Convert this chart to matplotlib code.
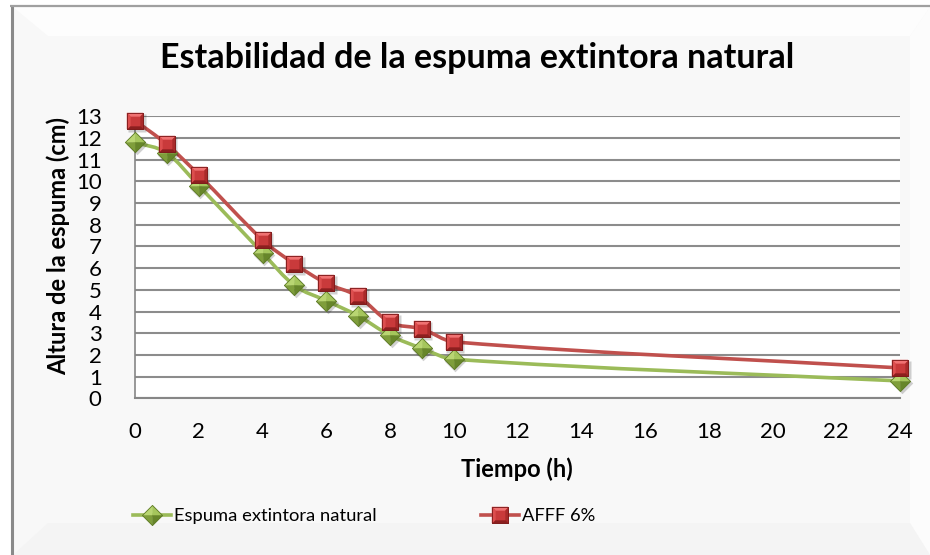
import numpy as np
import matplotlib
matplotlib.use("Agg")
import matplotlib.pyplot as plt
import matplotlib.transforms as mtransforms
from matplotlib.path import Path
from matplotlib.patches import PathPatch, Polygon
from matplotlib.lines import Line2D
from matplotlib.legend_handler import HandlerTuple

# Measurements
hours = [0, 1, 2, 4, 5, 6, 7, 8, 9, 10, 24]
espuma_natural = [11.8, 11.3, 9.8, 6.7, 5.2, 4.5, 3.8, 2.9, 2.3, 1.8, 0.8]
afff_6 = [12.8, 11.7, 10.3, 7.3, 6.2, 5.3, 4.7, 3.5, 3.2, 2.6, 1.4]
series_names = ["Espuma extintora natural", "AFFF 6%"]
x_ticks = list(range(0, 25, 2))
y_ticks = list(range(0, 14))

title = "Estabilidad de la espuma extintora natural"
x_label = "Tiempo (h)"
y_label = "Altura de la espuma (cm)"

GREEN = "#9bbb59"
RED = "#c0504d"

plt.rcParams['font.family'] = ['Lato', 'DejaVu Sans']

W, H = 930, 555
fig = plt.figure(figsize=(W / 100, H / 100), dpi=100)
fig.patch.set_facecolor("white")

# ---- bevelled chart frame ----
bg = fig.add_axes([0, 0, 1, 1], zorder=-10)
bg.set_xlim(0, W)
bg.set_ylim(H, 0)
bg.axis("off")
L, T = 13, 7
IL, IT, IR, IB = 48, 36, 910, 523
bg.add_patch(Polygon([(L, T), (W, T), (W, H), (L, H)], closed=True,
                     facecolor="#f8f8f8", edgecolor="none"))
bg.add_patch(Polygon([(L, T), (W, T), (IR, IT), (IL, IT)], closed=True,
                     facecolor="#fdfdfd", edgecolor="none"))
bg.add_patch(Polygon([(IR, IT), (W, T), (W, H), (IR, IB)], closed=True,
                     facecolor="#fcfcfc", edgecolor="none"))
bg.add_patch(Polygon([(IL, IB), (IR, IB), (W, H), (L, H)], closed=True,
                     facecolor="#f4f4f4", edgecolor="none"))
left_face = Polygon([(L, T), (IL, IT), (IL, IB), (L, H)], closed=True,
                    facecolor="none", edgecolor="none")
bg.add_patch(left_face)
grad = np.linspace(0.78, 0.97, 64).reshape(1, -1)
im = bg.imshow(grad, cmap="gray", vmin=0, vmax=1, aspect="auto",
               extent=[L, IL, H, T], interpolation="bilinear")
im.set_clip_path(left_face)
bg.set_xlim(0, W)
bg.set_ylim(H, 0)
bg.plot([11.5, 11.5], [5, H], color="#8a8a8a", lw=2.2, solid_capstyle="butt")
bg.plot([10, W], [5.5, 5.5], color="#a0a0a0", lw=1.6, solid_capstyle="butt")

# ---- plot area ----
ax = fig.add_axes([135 / W, 1 - 398.3 / H, (900 - 135) / W, (398.3 - 116.2) / H])
ax.set_facecolor("white")
ax.set_xlim(0, 24)
ax.set_ylim(0, 13)
ax.set_xticks(x_ticks)
ax.set_yticks(y_ticks)
ax.tick_params(axis="both", length=0, labelsize=16, colors="black")
ax.tick_params(axis="x", pad=17)
ax.tick_params(axis="y", pad=24)
ax.grid(axis="y", color="#8c8c8c", lw=1.5)
ax.set_axisbelow(True)
for side in ("top", "right"):
    ax.spines[side].set_visible(False)
ax.spines["left"].set_color("#868686")
ax.spines["left"].set_linewidth(1.2)
ax.spines["bottom"].set_color("#868686")
ax.spines["bottom"].set_linewidth(1.5)


def smooth_path(xs, ys):
    x = np.asarray(xs, float)
    y = np.asarray(ys, float)
    n = len(x)
    m = np.empty(n)
    m[0] = (y[1] - y[0]) / (x[1] - x[0])
    m[-1] = (y[-1] - y[-2]) / (x[-1] - x[-2])
    m[1:-1] = (y[2:] - y[:-2]) / (x[2:] - x[:-2])
    verts = [(x[0], y[0])]
    codes = [Path.MOVETO]
    for i in range(n - 1):
        h = x[i + 1] - x[i]
        verts += [(x[i] + h / 3, y[i] + m[i] * h / 3),
                  (x[i + 1] - h / 3, y[i + 1] - m[i + 1] * h / 3),
                  (x[i + 1], y[i + 1])]
        codes += [Path.CURVE4] * 3
    return Path(verts, codes)


# pyramid-shaded marker faces
diamond_faces = [
    ([(0, 0), (-1, 0), (0, 1)], "#b9d672"),
    ([(0, 0), (0, 1), (1, 0)], "#a5c65c"),
    ([(0, 0), (-1, 0), (0, -1)], "#7f9e3b"),
    ([(0, 0), (1, 0), (0, -1)], "#67862a"),
]
diamond_outline = [(-1, 0), (0, 1), (1, 0), (0, -1)]
k = 0.62
square_faces = [
    ([(-k, -k), (k, -k), (k, k), (-k, k)], "#c93a3b"),
    ([(-1, 1), (1, 1), (k, k), (-k, k)], "#f07272"),
    ([(-1, 1), (-k, k), (-k, -k), (-1, -1)], "#dc4e4e"),
    ([(1, 1), (1, -1), (k, -k), (k, k)], "#a92a2a"),
    ([(-1, -1), (-k, -k), (k, -k), (1, -1)], "#8c1f1f"),
]
square_outline = [(-1, -1), (1, -1), (1, 1), (-1, 1)]


def marker_path(pts):
    return Path(pts + [pts[0]], [Path.MOVETO] + [Path.LINETO] * (len(pts) - 1) + [Path.CLOSEPOLY])


def marker_layers(faces, outline, size, edge):
    layers = []
    for pts, col in faces:
        layers.append(dict(marker=marker_path(pts), markersize=size,
                           markerfacecolor=col, markeredgecolor=col,
                           markeredgewidth=0.3, linestyle="none"))
    layers.append(dict(marker=marker_path(outline), markersize=size,
                       markerfacecolor="none", markeredgecolor=edge,
                       markeredgewidth=0.6, linestyle="none"))
    return layers


series = [
    (espuma_natural, GREEN, diamond_outline,
     marker_layers(diamond_faces, diamond_outline, 14.5, "#5d7a25"), 14.5),
    (afff_6, RED, square_outline,
     marker_layers(square_faces, square_outline, 11.8, "#7a1818"), 11.8),
]

# soft drop shadow offset down-right
shadow_tf = mtransforms.offset_copy(ax.transData, fig=fig, x=1.5, y=-2.0, units="dots")

legend_handles = []
for vals, col, outline, layers, size in series:
    ax.add_patch(PathPatch(smooth_path(hours, vals), facecolor="none",
                           edgecolor=col, lw=2.6, zorder=3, capstyle="round",
                           joinstyle="round", clip_on=False))
    ax.plot(hours, vals, marker=marker_path(outline), markersize=size + 1,
            linestyle="none", markerfacecolor="#000000", markeredgecolor="none",
            alpha=0.18, transform=shadow_tf, zorder=3.5, clip_on=False)
    for lay in layers:
        ax.plot(hours, vals, zorder=4, clip_on=False, **lay)
    handle = [Line2D([], [], color=col, lw=2.6)]
    handle += [Line2D([], [], **lay) for lay in layers]
    legend_handles.append(tuple(handle))

fig.legend(legend_handles, series_names, loc="center",
           bbox_to_anchor=(364 / W, 1 - 516 / H), ncol=2, frameon=False,
           fontsize=13.2, handlelength=2.1, handletextpad=0.15,
           columnspacing=5.7,
           handler_map={tuple: HandlerTuple(ndivide=1, pad=0)})

fig.text(477 / W, 1 - 58 / H, title, ha="center", va="center",
         fontsize=24.5, fontweight="bold")
fig.text(517 / W, 1 - 469 / H, x_label, ha="center", va="center",
         fontsize=17, fontweight="bold")
fig.text(58 / W, 1 - 246 / H, y_label, ha="center", va="center",
         rotation=90, fontsize=17, fontweight="bold")

fig.savefig("out.png", dpi=100)
